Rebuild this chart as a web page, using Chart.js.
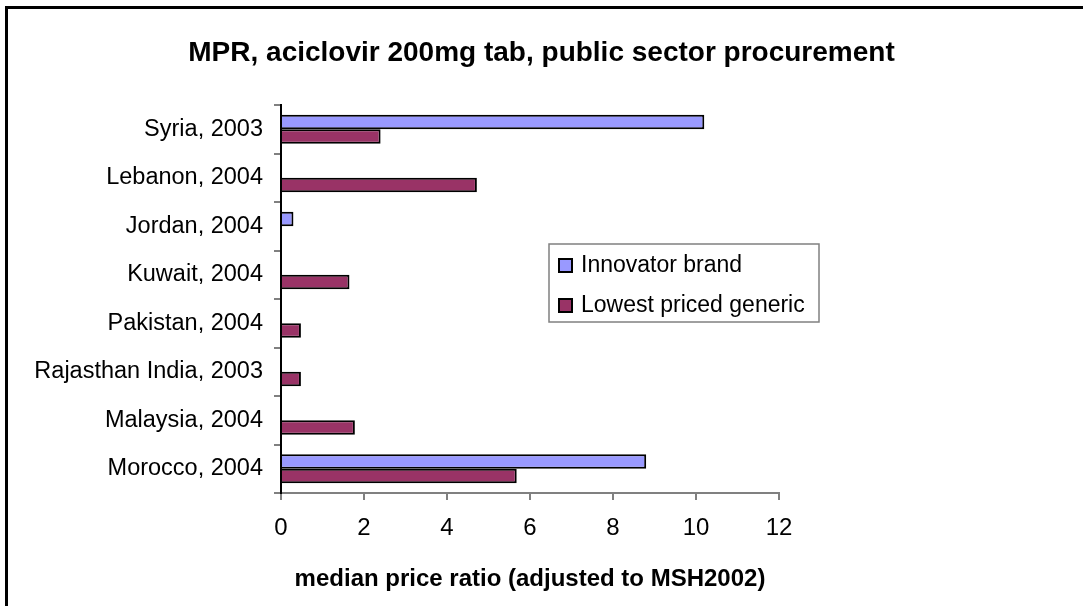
<!DOCTYPE html>
<html>
<head>
<meta charset="utf-8">
<script src="https://cdn.jsdelivr.net/npm/chart.js@4"></script>
<style>
    html, body { margin: 0; padding: 0; background: #ffffff; }
    #wrap { width: 1083px; height: 606px; }
</style>
</head>
<body>
<div id="wrap"><canvas id="barChart" width="1083" height="606"></canvas></div>
<script>
// chart data
const chartTitle = 'MPR, aciclovir 200mg tab, public sector procurement';
const axisTitle = 'median price ratio (adjusted to MSH2002)';
const categories = ['Syria, 2003', 'Lebanon, 2004', 'Jordan, 2004', 'Kuwait, 2004',
    'Pakistan, 2004', 'Rajasthan India, 2003', 'Malaysia, 2004', 'Morocco, 2004'];
const seriesNames = ['Innovator brand', 'Lowest priced generic'];
const innovatorValues = [10.2, null, 0.3, null, null, null, null, 8.8];
const genericValues = [2.4, 4.72, null, 1.65, 0.48, 0.48, 1.78, 5.68];
const xTicks = [0, 2, 4, 6, 8, 10, 12];

const FONT = '"Liberation Sans", Arial, sans-serif';

// white background, frame and the title
const framePlugin = {
    id: 'frame',
    beforeDraw(chart) {
        const ctx = chart.ctx;
        ctx.save();
        ctx.fillStyle = '#ffffff';
        ctx.fillRect(0, 0, chart.width, chart.height);
        ctx.strokeStyle = '#000000';
        ctx.lineWidth = 3;
        ctx.beginPath();
        ctx.moveTo(6.5, chart.height);
        ctx.lineTo(6.5, 7.5);
        ctx.lineTo(chart.width, 7.5);
        ctx.stroke();
        ctx.fillStyle = '#000000';
        ctx.font = 'bold 28px ' + FONT;
        ctx.textAlign = 'center';
        ctx.textBaseline = 'middle';
        ctx.fillText(chartTitle, chart.width / 2, 53);
        ctx.restore();
    }
};

// legend box inside the plot, like the original
const boxLegendPlugin = {
    id: 'boxLegend',
    afterDraw(chart) {
        const ctx = chart.ctx;
        const x = 549, y = 244, w = 270, h = 78;
        ctx.save();
        ctx.fillStyle = '#ffffff';
        ctx.fillRect(x, y, w, h);
        ctx.strokeStyle = '#808080';
        ctx.lineWidth = 1.5;
        ctx.strokeRect(x, y, w, h);
        ctx.font = '23px ' + FONT;
        ctx.textBaseline = 'middle';
        chart.data.datasets.forEach((ds, i) => {
            const cy = y + 21 + i * 40;
            ctx.fillStyle = ds.backgroundColor;
            ctx.fillRect(x + 10, cy - 6, 13, 13);
            ctx.strokeStyle = '#000000';
            ctx.lineWidth = 2;
            ctx.strokeRect(x + 10, cy - 6, 13, 13);
            ctx.fillStyle = '#000000';
            ctx.fillText(ds.label, x + 32, cy + 1);
        });
        ctx.restore();
    }
};

new Chart(document.getElementById('barChart'), {
    type: 'bar',
    data: {
        labels: categories,
        datasets: [{
            label: seriesNames[0],
            data: innovatorValues,
            backgroundColor: '#9999ff',
            borderColor: '#000000',
            borderWidth: 2
        }, {
            label: seriesNames[1],
            data: genericValues,
            backgroundColor: '#993366',
            borderColor: '#000000',
            borderWidth: 2
        }]
    },
    options: {
        indexAxis: 'y',
        responsive: false,
        animation: false,
        layout: { padding: { top: 105, right: 304, left: 0, bottom: 0 } },
        datasets: { bar: { categoryPercentage: 0.6, barPercentage: 1.0 } },
        scales: {
            x: {
                min: 0,
                max: 12,
                afterBuildTicks: (axis) => { axis.ticks = xTicks.map(v => ({ value: v })); },
                afterFit: (axis) => { axis.height = 113; },
                grid: { drawOnChartArea: false, color: '#808080', lineWidth: 2, tickLength: 7 },
                border: { color: '#808080', width: 2 },
                ticks: { color: '#000000', font: { family: FONT, size: 24 }, padding: 14, maxRotation: 0 },
                title: {
                    display: true,
                    text: axisTitle,
                    color: '#000000',
                    font: { family: FONT, size: 24, weight: 'bold' },
                    padding: { top: 8, bottom: 12 }
                }
            },
            y: {
                afterFit: (axis) => { axis.width = 281; },
                grid: { drawOnChartArea: false, color: '#808080', lineWidth: 2, tickLength: 7 },
                border: { color: '#000000', width: 2 },
                ticks: { color: '#000000', font: { family: FONT, size: 23.5 }, padding: 11 }
            }
        },
        plugins: {
            legend: { display: false },
            title: { display: false },
            tooltip: { enabled: false }
        }
    },
    plugins: [framePlugin, boxLegendPlugin]
});
</script>
</body>
</html>
